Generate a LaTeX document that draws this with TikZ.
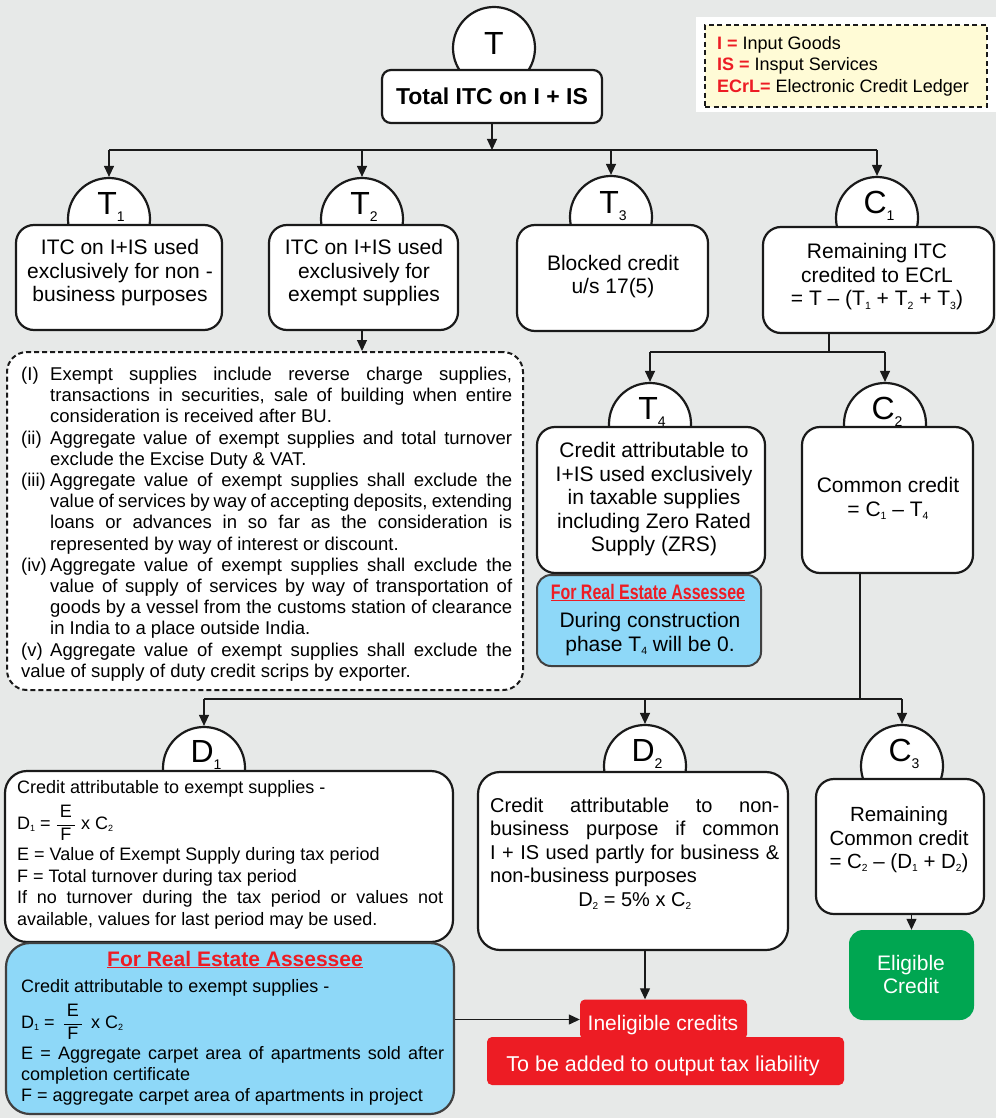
\documentclass[tikz,border=0pt]{standalone}
\usepackage{fontspec}
\setmainfont{Liberation Sans}
\newfontfamily\narrowfont{Liberation Sans}[FakeStretch=0.76]
\usetikzlibrary{arrows.meta}

\definecolor{bg}{HTML}{E7E9E8}
\definecolor{redtx}{HTML}{ED1C24}
\definecolor{bluebox}{HTML}{8ED8F8}
\definecolor{greenbox}{HTML}{00A651}
\definecolor{legendfill}{HTML}{FFFBD6}
\definecolor{edge}{HTML}{1A1A1A}

% small lowered index inside running text
\newcommand\sbs[1]{\raisebox{-0.15em}{\scalebox{0.5}{#1}}}
% big letter with index for the round tabs
\newcommand\tablbl[2]{#1\raisebox{-7pt}{\fontsize{14}{14}\selectfont #2}}
% the E over F ratio
\newcommand\frEF{$\displaystyle\frac{\mbox{\hspace{3pt}E\hspace{3pt}}}{\mbox{\hspace{3pt}F\hspace{3pt}}}$}
% hanging list entry for the notes panel
\newcommand\noteentry[1]{\par\noindent\hangindent=29pt\hangafter=1\makebox[29pt][l]{#1}\ignorespaces}
% loose justification settings for the paragraph panels
\newcommand\loosepar{\tolerance=9999\relax\hbadness=10000\relax\hyphenpenalty=10000\relax\parindent=0pt\relax}

\begin{document}
\begin{tikzpicture}[x=1pt,y=-1pt,
  box/.style={draw=edge, line width=2.2pt, fill=white, rounded corners=18pt, inner sep=0},
  tab/.style={circle, draw=edge, line width=2.2pt, fill=white, minimum size=82pt, inner sep=0},
  tabtext/.style={anchor=base, inner sep=0, font=\fontsize{32}{32}\selectfont},
  boxtext/.style={inner sep=0, align=center, font=\fontsize{21}{23.5}\selectfont},
  partext/.style={anchor=north west, inner sep=0, align=justify, execute at begin node=\loosepar},
  link/.style={draw=edge, line width=1.2pt},
  arr/.style={link, -{Triangle[length=11pt,width=10pt]}},
  redbox/.style={fill=redtx, rounded corners=5pt, inner sep=0},
  whitetext/.style={inner sep=0, text=white, align=center}
]
\useasboundingbox (0,0) rectangle (996,1118);
\fill[bg] (0,0) rectangle (996,1118);

% ---------- legend ----------
\node[fill=white, minimum width=300pt, minimum height=95pt, inner sep=0] (legbg) at (846,64.5) {};
\node[draw=edge, fill=legendfill, line width=2pt, dash pattern=on 5pt off 3.5pt,
      minimum width=282pt, minimum height=82pt, inner sep=0] (legbox) at (846,66) {};
\node[anchor=north west, inner sep=0, align=left, font=\fontsize{18}{21.5}\selectfont] (legtext) at (717,36)
  {\textcolor{redtx}{\bfseries I =} Input Goods\\
   \textcolor{redtx}{\bfseries IS =} Insput Services\\
   \textcolor{redtx}{\bfseries ECrL=} Electronic Credit Ledger};

% ---------- round tabs ----------
\node[tab] (tc)  at (494,48) {};
\node[tab] (t1c) at (109,219) {};
\node[tab] (t2c) at (362,219) {};
\node[tab] (t3c) at (611,217) {};
\node[tab] (c1c) at (877,218) {};
\node[tab] (t4c) at (650,424) {};
\node[tab] (c2c) at (885,424) {};
\node[tab] (d1c) at (204,768) {};
\node[tab] (d2c) at (645,766) {};
\node[tab] (c3c) at (902,766) {};

% ---------- boxes ----------
\node[box, rounded corners=9pt, minimum width=220pt, minimum height=53pt,
      font=\fontsize{23}{23}\selectfont\bfseries] (tbox) at (492,96.5) {Total ITC on I + IS};
\node[box, minimum width=206pt, minimum height=105pt] (t1box) at (119,277.5) {};
\node[box, minimum width=189pt, minimum height=105pt] (t2box) at (363.5,277.5) {};
\node[box, minimum width=191pt, minimum height=106pt] (t3box) at (612.5,278) {};
\node[box, minimum width=231pt, minimum height=106pt] (c1box) at (878.5,280) {};
\node[box, minimum width=228pt, minimum height=146pt] (t4box) at (651,500) {};
\node[box, minimum width=171pt, minimum height=146pt] (c2box) at (887.5,500) {};
\node[box, fill=bluebox, draw=black!75, line width=2pt, rounded corners=14pt,
      minimum width=224pt, minimum height=91pt] (t4blue) at (649,620.5) {};
\node[box, line width=2pt, dash pattern=on 5pt off 3pt, rounded corners=20pt,
      minimum width=516pt, minimum height=338pt] (notes) at (265,521) {};
\node[box, rounded corners=22pt, minimum width=448pt, minimum height=171pt] (d1box) at (229,856.5) {};
\node[box, fill=bluebox, draw=black!75, rounded corners=24pt,
      minimum width=448pt, minimum height=171pt] (d1blue) at (230,1028.5) {};
\node[box, rounded corners=22pt, minimum width=310pt, minimum height=178pt] (d2box) at (633,861) {};
\node[box, minimum width=168pt, minimum height=135pt] (c3box) at (900,846.5) {};
\node[fill=greenbox, rounded corners=14pt, minimum width=125pt, minimum height=90pt, inner sep=0] (green) at (911.5,975) {};
\node[redbox, minimum width=167pt, minimum height=40pt] (inelig) at (663.5,1019.5) {};
\node[redbox, minimum width=357pt, minimum height=48pt] (tobe) at (665.5,1061) {};

% ---------- connectors ----------
\coordinate (tsplit) at (492,150);
\draw[arr] (tbox.south) -- (tsplit);
\draw[link] (t1c |- tsplit) -- (c1c |- tsplit);
\draw[arr] (t1c |- tsplit) -- (t1c.north);
\draw[arr] (t2c |- tsplit) -- (t2c.north);
\draw[arr] (t3c |- tsplit) -- (t3c.north);
\draw[arr] (c1c |- tsplit) -- (c1c.north);

\draw[arr] (t2c |- t2box.south) -- (t2c |- notes.north);

\coordinate (c1split) at (829,352);
\draw[link] (c1split |- c1box.south) -- (c1split);
\draw[link] (t4c |- c1split) -- (c2c |- c1split);
\draw[arr] (t4c |- c1split) -- (t4c.north);
\draw[arr] (c2c |- c1split) -- (c2c.north);

\coordinate (c2split) at (860,699);
\draw[link] (c2split |- c2box.south) -- (c2split);
\draw[link] (d1c |- c2split) -- (c3c |- c2split);
\draw[arr] (d1c |- c2split) -- (d1c.north);
\draw[arr] (d2c |- c2split) -- (d2c.north);
\draw[arr] (c3c |- c2split) -- (c3c.north);

\draw[arr] (d2c |- d2box.south) -- (d2c |- inelig.north);
\draw[arr] (green.north |- c3box.south) -- (green.north);
\draw[arr] (d1blue.east |- inelig.west) -- (inelig.west);

% ---------- tab letters ----------
\node[tabtext] (tl)  at (494,55) {T};
\node[tabtext] (t1l) at (111,214) {\tablbl{T}{1}};
\node[tabtext] (t2l) at (364,214) {\tablbl{T}{2}};
\node[tabtext] (t3l) at (613,213) {\tablbl{T}{3}};
\node[tabtext] (c1l) at (879,213) {\tablbl{C}{1}};
\node[tabtext] (t4l) at (652,419) {\tablbl{T}{4}};
\node[tabtext] (c2l) at (887,419) {\tablbl{C}{2}};
\node[tabtext] (d1l) at (206,762) {\tablbl{D}{1}};
\node[tabtext] (d2l) at (647,761) {\tablbl{D}{2}};
\node[tabtext] (c3l) at (904,761) {\tablbl{C}{3}};

% ---------- box texts ----------
\node[boxtext] (t1text) at (120,273) {ITC on I+IS used\\exclusively for non -\\business purposes};
\node[boxtext] (t2text) at (364,273) {ITC on I+IS used\\exclusively for\\exempt supplies};
\node[boxtext] (t3text) at (613,276.5) {Blocked credit\\u/s 17(5)};
\node[boxtext] (c1text) at (877,277) {Remaining ITC\\credited to ECrL\\= T – (T\sbs{1} + T\sbs{2} + T\sbs{3})};
\node[boxtext] (t4text) at (654,499.5) {Credit attributable to\\I+IS used exclusively\\in taxable supplies\\including Zero Rated\\Supply (ZRS)};
\node[boxtext] (c2text) at (888,498.5) {Common credit\\= C\sbs{1} – T\sbs{4}};

\node[anchor=base, inner sep=0, text=redtx, font=\narrowfont\bfseries\fontsize{21}{21}\selectfont] (t4bluetitle) at (648,599)
  {\underline{For Real Estate Assessee}};
\node[boxtext, font=\fontsize{21}{24}\selectfont] (t4bluetext) at (650,634) {During construction\\phase T\sbs{4} will be 0.};

\node[partext, text width=491pt, font=\fontsize{18.5}{21.2}\selectfont] (notestext) at (21,359)
  {\noteentry{(I)}Exempt supplies include reverse charge supplies,\linebreak
   transactions in securities, sale of building when entire\linebreak
   consideration is received after BU.
   \noteentry{(ii)}Aggregate value of exempt supplies and total turnover\linebreak
   exclude the Excise Duty \& VAT.
   \noteentry{(iii)}Aggregate value of exempt supplies shall exclude the\linebreak
   value of services by way of accepting deposits, extending\linebreak
   loans or advances in so far as the consideration is\linebreak
   represented by way of interest or discount.
   \noteentry{(iv)}Aggregate value of exempt supplies shall exclude the\linebreak
   value of supply of services by way of transportation of\linebreak
   goods by a vessel from the customs station of clearance\linebreak
   in India to a place outside India.
   \noteentry{(v)}Aggregate value of exempt supplies shall exclude the\linebreak
   value of supply of duty credit scrips by exporter.};

\node[partext, text width=426pt, font=\fontsize{18}{21.5}\selectfont] (d1text) at (17,780)
  {Credit attributable to exempt supplies -\\[7pt]
   D\sbs{1} = \frEF{} x C\sbs{2}\\[6pt]
   E = Value of Exempt Supply during tax period\\
   F = Total turnover during tax period\\
   If no turnover during the tax period or values not available, values for last period may be used.};

\node[anchor=base, inner sep=0, text=redtx, font=\bfseries\fontsize{21}{21}\selectfont] (d1bluetitle) at (235,966)
  {\underline{For Real Estate Assessee}};
\node[partext, text width=423pt, font=\fontsize{18}{21}\selectfont] (d1bluetext) at (21,979)
  {Credit attributable to exempt supplies -\\[7pt]
   D\sbs{1} = \,\frEF\, x C\sbs{2}\\[6pt]
   E = Aggregate carpet area of apartments sold after completion certificate\\
   F = aggregate carpet area of apartments in project};

\node[partext, text width=289pt, font=\fontsize{20}{23.5}\selectfont] (d2text) at (490,797.5)
  {Credit attributable to non-\linebreak
   business purpose if common\linebreak
   I + IS used partly for business \&\linebreak
   non-business purposes\par
   \centerline{D\sbs{2} = 5\% x C\sbs{2}}};

\node[boxtext, font=\fontsize{20.5}{23.5}\selectfont] (c3text) at (899,840) {Remaining\\Common credit\\= C\sbs{2} – (D\sbs{1} + D\sbs{2})};

\node[whitetext, font=\fontsize{21}{23}\selectfont] (greentext) at (911,974.5) {Eligible\\Credit};
\node[whitetext, font=\fontsize{21}{21}\selectfont] (ineligtext) at (663,1025.5) {Ineligible credits};
\node[whitetext, font=\fontsize{21.5}{21.5}\selectfont] (tobetext) at (663,1065.5) {To be added to output tax liability};

\end{tikzpicture}
\end{document}
